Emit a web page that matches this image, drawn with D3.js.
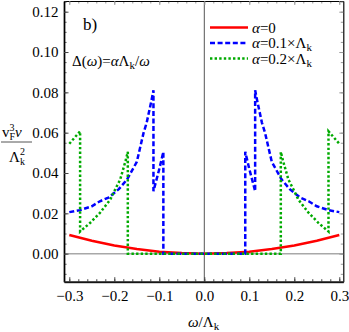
<html>
<head>
<script src="https://d3js.org/d3.v7.min.js"></script>
<style>
  body { margin: 0; background: #fff; }
  text { font-family: "Liberation Serif", "Times New Roman", serif; fill: #000; }
  .it { font-style: italic; }
</style>
</head>
<body>
<script>
// ---- data ----
var xMajor = [-0.3, -0.2, -0.1, 0.0, 0.1, 0.2, 0.3];
var xMinor = [-0.3, -0.28, -0.26, -0.24, -0.22, -0.2, -0.18, -0.16, -0.14, -0.12, -0.1, -0.08, -0.06, -0.04, -0.02,
              0, 0.02, 0.04, 0.06, 0.08, 0.1, 0.12, 0.14, 0.16, 0.18, 0.2, 0.22, 0.24, 0.26, 0.28, 0.3];
var yMajor = [0.00, 0.02, 0.04, 0.06, 0.08, 0.10, 0.12];
var yMinor = [-0.01, -0.005, 0, 0.005, 0.01, 0.015, 0.02, 0.025, 0.03, 0.035, 0.04, 0.045, 0.05, 0.055, 0.06,
              0.065, 0.07, 0.075, 0.08, 0.085, 0.09, 0.095, 0.1, 0.105, 0.11, 0.115, 0.12, 0.125];

// alpha = 0
var redW = [-0.3, -0.25, -0.2, -0.15, -0.1, -0.05, 0, 0.05, 0.1, 0.15, 0.2, 0.25, 0.3];
var redV = [0.0093, 0.0064, 0.0041, 0.0023, 0.0010, 0.0003, 0, 0.0003, 0.0010, 0.0023, 0.0041, 0.0064, 0.0093];

// alpha = 0.1 x Lambda_k
var blueW = [-0.3, -0.276, -0.25, -0.232, -0.213, -0.19, -0.172, -0.15, -0.135, -0.128, -0.117, -0.113, -0.113, -0.1, -0.091, -0.091,
             0, 0.091, 0.091, 0.1, 0.113, 0.113, 0.117, 0.128, 0.135, 0.15, 0.172, 0.19, 0.213, 0.232, 0.25, 0.276, 0.3];
var blueV = [0.0206, 0.0216, 0.0235, 0.026, 0.0278, 0.032, 0.0367, 0.0455, 0.0599, 0.065, 0.0764, 0.081, 0.031, 0.042, 0.0505, 0,
             0, 0, 0.0505, 0.042, 0.031, 0.081, 0.0764, 0.065, 0.0599, 0.0455, 0.0367, 0.032, 0.0278, 0.026, 0.0235, 0.0216, 0.0206];

// alpha = 0.2 x Lambda_k
var greenW = [-0.3, -0.276, -0.276, -0.254, -0.232, -0.209, -0.2, -0.187, -0.175, -0.17, -0.17,
              0, 0.17, 0.17, 0.175, 0.187, 0.2, 0.209, 0.232, 0.254, 0.276, 0.276, 0.3];
var greenV = [0.0545, 0.0607, 0.011, 0.0152, 0.0202, 0.0268, 0.031, 0.0367, 0.046, 0.0505, 0,
              0, 0, 0.0505, 0.046, 0.0367, 0.031, 0.0268, 0.0202, 0.0152, 0.011, 0.0607, 0.0545];

var legendText = ["α=0", "α=0.1×Λ", "α=0.2×Λ"];

// ---- layout ----
var W = 349, H = 332;
var L = 64, R = 343.3, T = 1, B = 281.7;
var serif = '"Liberation Serif", "Times New Roman", serif';

var svg = d3.select("body").append("svg").attr("width", W).attr("height", H);

var x = d3.scaleLinear().domain([-0.3118, 0.3089]).range([L, R]);
var y = d3.scaleLinear().domain([-0.0139, 0.1253]).range([B, T]);

// zero lines
svg.append("line").attr("x1", L).attr("x2", R).attr("y1", y(0)).attr("y2", y(0))
   .attr("stroke", "#a8a8a8").attr("stroke-width", 1.5);
svg.append("line").attr("x1", x(0)).attr("x2", x(0)).attr("y1", T).attr("y2", B)
   .attr("stroke", "#555").attr("stroke-width", 1);

// frame top / right
function styleAxis(g, col, w) {
  g.select(".domain").attr("stroke", col).attr("stroke-width", w);
  g.selectAll(".tick line").attr("stroke", col).attr("stroke-width", 1);
}
var gt = svg.append("g").attr("transform", "translate(0," + T + ")")
  .call(d3.axisTop(x).tickValues(xMinor).tickSizeInner(-2.5).tickSizeOuter(0).tickFormat(""));
gt.append("g").call(d3.axisTop(x).tickValues(xMajor).tickSizeInner(-4).tickSizeOuter(0).tickFormat(""));
styleAxis(gt, "#999", 1);
gt.selectAll(".tick line").attr("stroke", "#999");

var gr = svg.append("g").attr("transform", "translate(" + R + ",0)")
  .call(d3.axisRight(y).tickValues(yMinor).tickSizeInner(-2.5).tickSizeOuter(0).tickFormat(""));
gr.append("g").call(d3.axisRight(y).tickValues(yMajor).tickSizeInner(-4).tickSizeOuter(0).tickFormat(""));
styleAxis(gr, "#999", 1);
gr.selectAll(".tick line").attr("stroke", "#999");

// left axis
var gl = svg.append("g").attr("transform", "translate(" + L + ",0)")
  .call(d3.axisLeft(y).tickValues(yMinor).tickSizeInner(-2.5).tickSizeOuter(0).tickFormat(""));
gl.append("g").call(d3.axisLeft(y).tickValues(yMajor).tickSizeInner(-4.5).tickSizeOuter(0)
  .tickPadding(5.5).tickFormat(d3.format(".2f")));
styleAxis(gl, "#444", 2);
gl.selectAll(".tick line").attr("stroke", "#444");
gl.selectAll("text").style("font-size", "15px").style("font-family", serif).style("fill", "#000");

// bottom axis
var gb = svg.append("g").attr("transform", "translate(0," + B + ")")
  .call(d3.axisBottom(x).tickValues(xMinor).tickSizeInner(-2.5).tickSizeOuter(0).tickFormat(""));
gb.append("g").call(d3.axisBottom(x).tickValues(xMajor).tickSizeInner(-4.5).tickSizeOuter(0)
  .tickPadding(9).tickFormat(d3.format(".1f")));
styleAxis(gb, "#444", 2);
gb.selectAll(".tick line").attr("stroke", "#444");
gb.selectAll("text").style("font-size", "15px").style("font-family", serif).style("fill", "#000");

// curves
var line = d3.line().x(d => x(d[0])).y(d => y(d[1]));
var series = [
  { w: redW, v: redV, col: "#ff0000", dash: null },
  { w: blueW, v: blueV, col: "#0000ff", dash: "5,2.6" },
  { w: greenW, v: greenV, col: "#00aa00", dash: "2.4,2.2" }
];
series.forEach(function(s) {
  var pts = s.w.map((w, i) => [w, s.v[i]]);
  svg.append("path").datum(pts).attr("d", line)
    .attr("fill", "none").attr("stroke", s.col).attr("stroke-width", 2.5)
    .attr("stroke-dasharray", s.dash);
});

// legend
var lg = svg.append("g");
series.forEach(function(s, i) {
  var yy = 27.5 + i * 15.5;
  lg.append("line").attr("x1", 210).attr("x2", 248).attr("y1", yy).attr("y2", yy)
    .attr("stroke", s.col).attr("stroke-width", 2.5).attr("stroke-dasharray", s.dash);
  var t = lg.append("text").attr("x", 252).attr("y", yy + 5).attr("font-size", 15);
  var txt = legendText[i];
  t.append("tspan").attr("class", "it").text(txt[0]);
  t.append("tspan").text(txt.slice(1));
  if (i > 0) t.append("tspan").attr("font-size", 11).attr("dy", 3).text("k");
});

// panel label
svg.append("text").attr("x", 83).attr("y", 30).attr("font-size", 17).text("b)");

// gap formula
var f = svg.append("text").attr("x", 72).attr("y", 66).attr("font-size", 15);
f.append("tspan").text("Δ(");
f.append("tspan").attr("class", "it").text("ω");
f.append("tspan").text(")=");
f.append("tspan").attr("class", "it").text("α");
f.append("tspan").text("Λ");
f.append("tspan").attr("font-size", 11).attr("dy", 3).text("k");
f.append("tspan").attr("dy", -3).text("/");
f.append("tspan").attr("class", "it").text("ω");

// x title
var xt = svg.append("text").attr("x", 188).attr("y", 327).attr("font-size", 15);
xt.append("tspan").attr("class", "it").text("ω");
xt.append("tspan").text("/Λ");
xt.append("tspan").attr("font-size", 11).attr("dy", 3).text("k");

// y title as a fraction
var num = svg.append("text").attr("x", 2).attr("y", 137).attr("font-size", 15);
num.append("tspan").text("v");
num.append("tspan").attr("font-size", 10).attr("dy", -6).text("3");
num.append("tspan").attr("font-size", 10).attr("dx", -5).attr("dy", 9).text("F");
num.append("tspan").attr("class", "it").attr("dy", -3).text("ν");
svg.append("line").attr("x1", 1).attr("x2", 32).attr("y1", 142).attr("y2", 142)
  .attr("stroke", "#555").attr("stroke-width", 1);
var den = svg.append("text").attr("x", 9).attr("y", 162).attr("font-size", 15);
den.append("tspan").text("Λ");
den.append("tspan").attr("font-size", 10).attr("dy", -7).text("2");
den.append("tspan").attr("font-size", 10).attr("dx", -5).attr("dy", 10).text("k");
</script>
</body>
</html>
